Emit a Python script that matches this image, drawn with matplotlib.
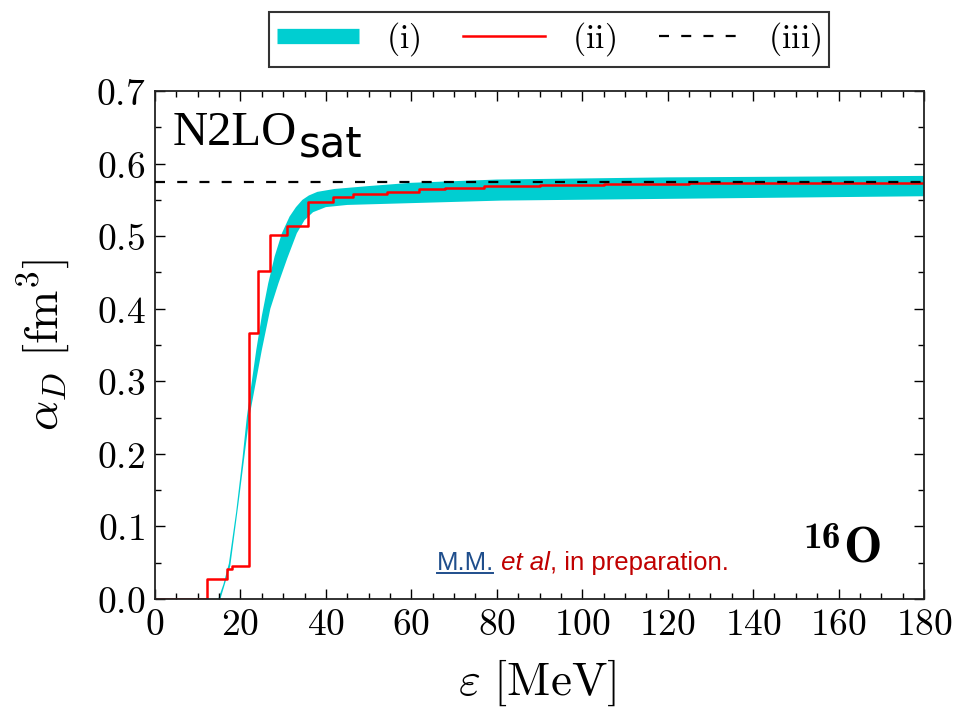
import matplotlib
matplotlib.use("Agg")
import matplotlib.pyplot as plt
from matplotlib.lines import Line2D
from matplotlib.ticker import MultipleLocator, FuncFormatter
import numpy as np

plt.rcParams["mathtext.fontset"] = "cm"

# (i) uncertainty band: upper and lower edges, energy [MeV] -> alpha_D [fm^3]
band_upper_e = [14.8, 16.0, 17.3, 19.0, 20.5, 21.5, 23.7, 25.0, 26.5, 28.0, 29.7,
                31.5, 33.0, 34.5, 36.0, 38.0, 42.0, 50.0, 60.0, 80.0, 120.0, 180.0]
band_upper_a = [0.0, 0.020, 0.049, 0.120, 0.195, 0.251, 0.343, 0.390, 0.435, 0.472, 0.504,
                0.527, 0.540, 0.550, 0.556, 0.561, 0.565, 0.569, 0.5735, 0.578, 0.581, 0.583]
band_lower_e = [15.3, 17.6, 19.5, 22.1, 25.0, 27.0, 28.9, 31.0, 33.2, 35.0, 37.0,
                40.0, 45.0, 63.0, 81.0, 130.0, 180.0]
band_lower_a = [0.0, 0.045, 0.130, 0.251, 0.343, 0.400, 0.435, 0.470, 0.504, 0.522, 0.533,
                0.540, 0.543, 0.546, 0.549, 0.552, 0.555]

# (ii) running sum over discrete states (step function)
step_e = [0.0, 12.25, 16.9, 18.0, 22.1, 24.2, 26.9, 30.8, 35.7, 41.6, 46.4, 54.3,
          61.7, 67.9, 76.9, 90.0, 105.0, 125.0, 150.0, 180.0]
step_a = [0.0, 0.0276, 0.042, 0.045, 0.366, 0.452, 0.5016, 0.514, 0.5466, 0.5535, 0.5577,
          0.561, 0.5646, 0.567, 0.5695, 0.571, 0.572, 0.573, 0.5737, 0.5737]

# (iii) total value
alpha_total = 0.574

legend_labels = [r"$\mathrm{(i)}$", r"$\mathrm{(ii)}$", r"$\mathrm{(iii)}$"]

band_color = "#00CED1"
step_color = "#FF0000"

fig = plt.figure(figsize=(9.55, 7.13), dpi=100)
ax = fig.add_axes([155 / 955, 1 - 599 / 713, 769 / 955, 508 / 713])

poly_e = np.concatenate([band_upper_e, band_lower_e[::-1]])
poly_a = np.concatenate([band_upper_a, band_lower_a[::-1]])
ax.fill(poly_e, poly_a, color=band_color, lw=0, zorder=1)

ax.step(step_e, step_a, where="post", color=step_color, lw=1.8, zorder=2)
ax.axhline(alpha_total, color="black", lw=1.6, dashes=(4.5, 5.5), zorder=3)

ax.set_xlim(0, 180)
ax.set_ylim(0, 0.7)
ax.xaxis.set_major_locator(MultipleLocator(20))
ax.xaxis.set_minor_locator(MultipleLocator(5))
ax.yaxis.set_major_locator(MultipleLocator(0.1))
ax.yaxis.set_minor_locator(MultipleLocator(0.05))
ax.xaxis.set_major_formatter(FuncFormatter(lambda v, p: r"$%d$" % round(v)))
ax.yaxis.set_major_formatter(FuncFormatter(lambda v, p: r"$%.1f$" % v))
ax.tick_params(which="both", direction="in", top=True, right=True, width=1.0, colors="black")
ax.tick_params(which="major", length=7, labelsize=27)
ax.tick_params(axis="x", which="major", pad=6)
ax.tick_params(axis="y", which="major", pad=7)
ax.tick_params(which="minor", length=4)
for s in ax.spines.values():
    s.set_linewidth(1.3)
    s.set_color("#222222")

ax.set_xlabel(r"$\varepsilon\ [\mathrm{MeV}]$", fontsize=34)
ax.set_ylabel(r"$\alpha_D\ [\mathrm{fm}^3]$", fontsize=34)
ax.xaxis.set_label_coords(0.497, -0.115)
ax.yaxis.set_label_coords(-0.108, 0.5)

# interaction name
t_name = ax.text(0.023, 0.894, "N2LO", transform=ax.transAxes, fontsize=35,
                 family=["DejaVu Serif Condensed", "Liberation Serif"],
                 va="baseline", ha="left")
ax.annotate("sat", xy=(1, 0), xycoords=t_name, xytext=(1, -1.5), textcoords="offset points",
            fontsize=30, family="DejaVu Sans", va="baseline", ha="left")

# nucleus label, bold serif
t_o = ax.text(0.945, 0.071, "O", transform=ax.transAxes, fontsize=37, family="cmb10",
              ha="right", va="baseline")
ax.annotate("16", xy=(0, 1), xycoords=t_o, xytext=(-1.5, 4), textcoords="offset points",
            fontsize=27, family="cmb10", ha="right", va="top")

# reference note
note_fs = 18.5
t1 = ax.text(0.366, 0.057, "M.M.", transform=ax.transAxes, fontsize=note_fs,
             family="Liberation Sans", color="#1F4E8C", va="baseline", ha="left")
t2 = ax.annotate(" et al", xy=(1, 0), xycoords=t1, fontsize=note_fs, family="Liberation Sans",
                 style="italic", color="#C00000", va="bottom", ha="left")
ax.annotate(", in preparation.", xy=(1, 0), xycoords=t2, fontsize=note_fs,
            family="Liberation Sans", color="#C00000", va="bottom", ha="left")

handles = [
    Line2D([], [], color=band_color, lw=11, solid_capstyle="butt"),
    Line2D([], [], color=step_color, lw=1.8),
    Line2D([], [], color="black", lw=1.6, dashes=(4.5, 5.5)),
]
leg = fig.legend(handles, legend_labels, loc="center", bbox_to_anchor=(0.575, 0.9446),
                 ncol=3, frameon=True, fancybox=False, fontsize=24.5, handlelength=2.4,
                 handletextpad=0.8, columnspacing=1.25, borderpad=0.25)
leg.get_frame().set_edgecolor("black")
leg.get_frame().set_linewidth(1.5)

# underline under the author initials
fig.canvas.draw()
bb = t1.get_window_extent()
inv = fig.transFigure.inverted()
base_y = ax.transAxes.transform((0, 0.057))[1]
(x0, y0), (x1, _) = inv.transform([(bb.x0 + 1, base_y - 3), (bb.x1 - 1, base_y - 3)])
fig.add_artist(Line2D([x0, x1], [y0, y0], transform=fig.transFigure, color="#1F4E8C", lw=1.4))

fig.savefig("out.png", dpi=100)
